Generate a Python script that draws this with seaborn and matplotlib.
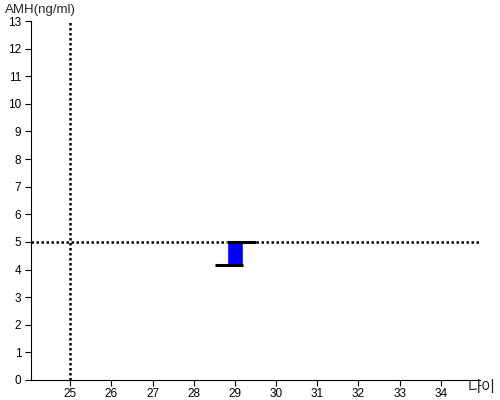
import numpy as np
import pandas as pd
import matplotlib
matplotlib.use("Agg")
import matplotlib.pyplot as plt
import seaborn as sns

# data
age = [29]
amh_low = [4.15]
amh_high = [5.0]
ref_age = 25
ref_amh = 5.0
x_ticks = list(range(25, 35))
y_ticks = list(range(0, 14))

df = pd.DataFrame({"age": age, "low": amh_low, "high": amh_high})

sns.set_style("white")
plt.rcParams['font.family'] = ['Liberation Sans', 'Noto Sans CJK KR', 'DejaVu Sans']

fig = plt.figure(figsize=(5, 4), dpi=100)
ax = fig.add_axes([0.062, 0.05, 0.898, 0.8975])

# box from low to high
ax.bar(df["age"], df["high"] - df["low"], bottom=df["low"], width=0.38,
       color="#0000ff", zorder=3)
# low whisker to the left, high whisker to the right
ax.hlines(df["low"], df["age"] - 0.48, df["age"] + 0.2, color="black", lw=2.2, zorder=4)
ax.hlines(df["high"], df["age"] - 0.2, df["age"] + 0.52, color="black", lw=2.2, zorder=4)

# reference lines
ax.axvline(ref_age, color="black", lw=1.8, ls=(0, (1, 1)), zorder=2)
ax.axhline(ref_amh, color="black", lw=1.8, ls=(0, (1, 1)), zorder=2)

ax.set_xlim(24.05, 34.95)
ax.set_ylim(0, 13)
ax.set_xticks(x_ticks)
ax.set_yticks(y_ticks)
ax.tick_params(axis="both", direction="out", length=4, width=0.8, colors="black",
               labelsize=8.5, bottom=True, left=True)
ax.tick_params(axis="x", pad=1.5)
ax.tick_params(axis="y", pad=3)
sns.despine(ax=ax)
for s in ["left", "bottom"]:
    ax.spines[s].set_color("black")
    ax.spines[s].set_linewidth(0.8)

fig.text(0.01, 0.975, "AMH(ng/ml)", fontsize=9.5, va="center", ha="left")
fig.text(0.992, 0.03, "나이", fontsize=11, va="center", ha="right")

fig.savefig("out.png", dpi=100)
